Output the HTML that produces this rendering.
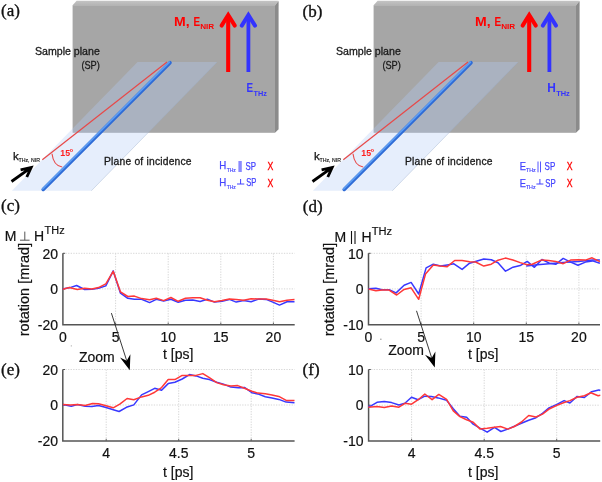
<!DOCTYPE html>
<html><head><meta charset="utf-8"><style>
html,body{margin:0;padding:0;background:#fff;}
svg{display:block;will-change:transform;}
.ser{font-family:"Liberation Serif",serif;font-size:17px;fill:#111;stroke:#111;stroke-width:0.35px;}
.s{font-family:"Liberation Sans",sans-serif;fill:#111;stroke:#111;stroke-width:0.2px;}
.c{font-family:"Liberation Sans",sans-serif;}
.b{font-family:"Liberation Sans",sans-serif;font-weight:bold;}
</style></head><body>
<svg width="602" height="482" viewBox="0 0 602 482">
<defs>
<linearGradient id="topg" x1="0" y1="0" x2="0" y2="1">
<stop offset="0" stop-color="#c4c4c4"/><stop offset="1" stop-color="#b4b4b4"/>
</linearGradient>
</defs>
<rect width="602" height="482" fill="#fff"/>
<g transform="translate(0,0)">
<text x="1" y="16" class="ser">(a)</text>
<polygon points="72.6,5.2 76.6,0.7 278.6,0.7 275,5.2" fill="url(#topg)"/>
<polygon points="275,5.2 278.6,0.9 278.6,129.2 275,132.8" fill="#8b8b8b"/>
<rect x="72.6" y="5.2" width="202.4" height="127.6" fill="#a6a6a6"/>
<polygon points="137.6,62 217,62 91.3,190.8 11.9,190.8" fill="#b3cbf6" fill-opacity="0.33"/><line x1="217" y1="62" x2="91.3" y2="190.8" stroke="#9db0cc" stroke-width="0.7" stroke-opacity="0.6"/>
<line x1="42.3" y1="159.7" x2="167" y2="62" stroke="#e84848" stroke-width="1.2"/>
<line x1="43.2" y1="189.4" x2="170" y2="62.7" stroke="#2e6bd6" stroke-width="3.6" stroke-linecap="round"/>
<line x1="43.2" y1="189.4" x2="170" y2="62.7" stroke="#5c9cf2" stroke-width="1.5" stroke-linecap="round" transform="translate(-0.55,-0.55)"/>
<path d="M52,153.8 Q53.5,166 62.2,167" stroke="#e84848" stroke-width="1.1" fill="none"/>
<text x="60.3" y="155.7" class="b" font-size="9.2" fill="#ff2020" textLength="9.8" lengthAdjust="spacingAndGlyphs">15</text>
<text x="69.4" y="155.2" class="b" font-size="9.6" fill="#ff2020">°</text>
<text x="13" y="160" class="c" font-size="11.5" fill="#111" stroke="#111" stroke-width="0.25">k</text>
<text x="18.5" y="161.7" class="c" font-size="5.6" fill="#111" stroke="#111" stroke-width="0.15" textLength="21.4" lengthAdjust="spacingAndGlyphs">THz, NIR</text>
<path d="M11.5,181.5 L30.6,167.8 M20.6,169.8 L31.2,167.4 L26.8,177" stroke="#000" stroke-width="2.8" fill="none" stroke-linecap="butt" stroke-linejoin="miter"/>
<text x="35" y="54.6" class="c" font-size="10.6" fill="#1a1a1a" stroke="#1a1a1a" stroke-width="0.3" textLength="64.8" lengthAdjust="spacing">Sample plane</text>
<text x="81.4" y="68.9" class="c" font-size="10.8" fill="#1a1a1a" stroke="#1a1a1a" stroke-width="0.3" textLength="18.4" lengthAdjust="spacingAndGlyphs">(SP)</text>
<text x="104" y="165.3" class="c" font-size="10.3" fill="#1a1a1a" stroke="#1a1a1a" stroke-width="0.3" textLength="87.6" lengthAdjust="spacing">Plane of incidence</text>
<path d="M228.2,72 L228.2,16" stroke="#ff0000" stroke-width="4.1" fill="none"/><path d="M221.6,25.6 L228.2,15 L234.8,25.6" stroke="#ff0000" stroke-width="4" fill="none" stroke-linecap="round" stroke-linejoin="miter" stroke-miterlimit="10"/>
<path d="M248.4,72 L248.4,16" stroke="#3333ff" stroke-width="3.8" fill="none"/><path d="M241.8,25.6 L248.4,15 L255,25.6" stroke="#3333ff" stroke-width="4" fill="none" stroke-linecap="round" stroke-linejoin="miter" stroke-miterlimit="10"/>
<text x="174" y="26.1" class="b" font-size="12.4" fill="#ff0000" textLength="15.6" lengthAdjust="spacingAndGlyphs">M,</text>
<text x="193.6" y="26.1" class="b" font-size="12.4" fill="#ff0000" textLength="6.6" lengthAdjust="spacingAndGlyphs">E</text>
<text x="200.2" y="29.4" class="b" font-size="8" fill="#ff0000" textLength="14" lengthAdjust="spacingAndGlyphs">NIR</text>
<text x="246.6" y="92.3" class="b" font-size="12.4" fill="#3333ff" textLength="6.6" lengthAdjust="spacingAndGlyphs">E</text>
<text x="253.6" y="95.8" class="b" font-size="8" fill="#3333ff" textLength="13.4" lengthAdjust="spacingAndGlyphs">THz</text>
<text x="219.2" y="169.4" class="c" font-size="10.3" fill="#4444ff" stroke="#4444ff" stroke-width="0.25" textLength="7" lengthAdjust="spacingAndGlyphs">H</text>
<text x="226.7" y="171.6" class="c" font-size="5.2" fill="#4444ff" stroke="#4444ff" stroke-width="0.15" textLength="9.2" lengthAdjust="spacingAndGlyphs">THz</text>
<rect x="238.4" y="161" width="3.4" height="11" fill="#8a8aff"/>
<text x="245.4" y="169.5" class="c" font-size="10.3" fill="#4444ff" stroke="#4444ff" stroke-width="0.25" textLength="10.5" lengthAdjust="spacingAndGlyphs">SP</text>
<text x="267.6" y="169.6" class="c" font-size="10.3" fill="#ff0000" stroke="#ff0000" stroke-width="0.3" textLength="5.8" lengthAdjust="spacingAndGlyphs">X</text>
<text x="219.2" y="186.3" class="c" font-size="10.3" fill="#4444ff" stroke="#4444ff" stroke-width="0.25" textLength="7" lengthAdjust="spacingAndGlyphs">H</text>
<text x="226.7" y="188.5" class="c" font-size="5.2" fill="#4444ff" stroke="#4444ff" stroke-width="0.15" textLength="9.2" lengthAdjust="spacingAndGlyphs">THz</text>
<path d="M237,184 L244.3,184 M240.6,184 L240.6,179" stroke="#4444ff" stroke-width="1" fill="none"/>
<text x="246.2" y="186.4" class="c" font-size="10.3" fill="#4444ff" stroke="#4444ff" stroke-width="0.25" textLength="10.2" lengthAdjust="spacingAndGlyphs">SP</text>
<text x="267.6" y="186.5" class="c" font-size="10.3" fill="#ff0000" stroke="#ff0000" stroke-width="0.3" textLength="5.8" lengthAdjust="spacingAndGlyphs">X</text>
</g>
<g transform="translate(301,0)">
<text x="1.6" y="17.4" class="ser">(b)</text>
<polygon points="72.6,5.2 76.6,0.7 278.6,0.7 275,5.2" fill="url(#topg)"/>
<polygon points="275,5.2 278.6,0.9 278.6,129.2 275,132.8" fill="#8b8b8b"/>
<rect x="72.6" y="5.2" width="202.4" height="127.6" fill="#a6a6a6"/>
<polygon points="137.6,62 217,62 91.3,190.8 11.9,190.8" fill="#b3cbf6" fill-opacity="0.33"/><line x1="217" y1="62" x2="91.3" y2="190.8" stroke="#9db0cc" stroke-width="0.7" stroke-opacity="0.6"/>
<line x1="42.3" y1="159.7" x2="167" y2="62" stroke="#e84848" stroke-width="1.2"/>
<line x1="43.2" y1="189.4" x2="170" y2="62.7" stroke="#2e6bd6" stroke-width="3.6" stroke-linecap="round"/>
<line x1="43.2" y1="189.4" x2="170" y2="62.7" stroke="#5c9cf2" stroke-width="1.5" stroke-linecap="round" transform="translate(-0.55,-0.55)"/>
<path d="M52,153.8 Q53.5,166 62.2,167" stroke="#e84848" stroke-width="1.1" fill="none"/>
<text x="60.3" y="155.7" class="b" font-size="9.2" fill="#ff2020" textLength="9.8" lengthAdjust="spacingAndGlyphs">15</text>
<text x="69.4" y="155.2" class="b" font-size="9.6" fill="#ff2020">°</text>
<text x="13" y="160" class="c" font-size="11.5" fill="#111" stroke="#111" stroke-width="0.25">k</text>
<text x="18.5" y="161.7" class="c" font-size="5.6" fill="#111" stroke="#111" stroke-width="0.15" textLength="21.4" lengthAdjust="spacingAndGlyphs">THz, NIR</text>
<path d="M11.5,181.5 L30.6,167.8 M20.6,169.8 L31.2,167.4 L26.8,177" stroke="#000" stroke-width="2.8" fill="none" stroke-linecap="butt" stroke-linejoin="miter"/>
<text x="35" y="54.6" class="c" font-size="10.6" fill="#1a1a1a" stroke="#1a1a1a" stroke-width="0.3" textLength="64.8" lengthAdjust="spacing">Sample plane</text>
<text x="81.4" y="68.9" class="c" font-size="10.8" fill="#1a1a1a" stroke="#1a1a1a" stroke-width="0.3" textLength="18.4" lengthAdjust="spacingAndGlyphs">(SP)</text>
<text x="104" y="165.3" class="c" font-size="10.3" fill="#1a1a1a" stroke="#1a1a1a" stroke-width="0.3" textLength="87.6" lengthAdjust="spacing">Plane of incidence</text>
<path d="M228.2,72 L228.2,16" stroke="#ff0000" stroke-width="4.1" fill="none"/><path d="M221.6,25.6 L228.2,15 L234.8,25.6" stroke="#ff0000" stroke-width="4" fill="none" stroke-linecap="round" stroke-linejoin="miter" stroke-miterlimit="10"/>
<path d="M248.4,72 L248.4,16" stroke="#3333ff" stroke-width="3.8" fill="none"/><path d="M241.8,25.6 L248.4,15 L255,25.6" stroke="#3333ff" stroke-width="4" fill="none" stroke-linecap="round" stroke-linejoin="miter" stroke-miterlimit="10"/>
<text x="174" y="26.1" class="b" font-size="12.4" fill="#ff0000" textLength="15.6" lengthAdjust="spacingAndGlyphs">M,</text>
<text x="193.6" y="26.1" class="b" font-size="12.4" fill="#ff0000" textLength="6.6" lengthAdjust="spacingAndGlyphs">E</text>
<text x="200.2" y="29.4" class="b" font-size="8" fill="#ff0000" textLength="14" lengthAdjust="spacingAndGlyphs">NIR</text>
<text x="246.2" y="92.3" class="b" font-size="12.4" fill="#3333ff" textLength="8.6" lengthAdjust="spacingAndGlyphs">H</text>
<text x="255.2" y="95.8" class="b" font-size="8" fill="#3333ff" textLength="13.6" lengthAdjust="spacingAndGlyphs">THz</text>
<text x="218.8" y="169.6" class="c" font-size="10.3" fill="#4444ff" stroke="#4444ff" stroke-width="0.25" textLength="6.2" lengthAdjust="spacingAndGlyphs">E</text>
<text x="224.9" y="171.7" class="c" font-size="5.2" fill="#4444ff" stroke="#4444ff" stroke-width="0.15" textLength="9.9" lengthAdjust="spacingAndGlyphs">THz</text>
<path d="M237,161.5 L237,172.3 M239.5,161.5 L239.5,172.3" stroke="#4444ff" stroke-width="0.9" fill="none"/>
<text x="243.6" y="169.6" class="c" font-size="10.3" fill="#4444ff" stroke="#4444ff" stroke-width="0.25" textLength="10.7" lengthAdjust="spacingAndGlyphs">SP</text>
<text x="265.7" y="169.6" class="c" font-size="10.3" fill="#ff0000" stroke="#ff0000" stroke-width="0.3" textLength="5.8" lengthAdjust="spacingAndGlyphs">X</text>
<text x="218.8" y="186.5" class="c" font-size="10.3" fill="#4444ff" stroke="#4444ff" stroke-width="0.25" textLength="6.2" lengthAdjust="spacingAndGlyphs">E</text>
<text x="224.9" y="188.7" class="c" font-size="5.2" fill="#4444ff" stroke="#4444ff" stroke-width="0.15" textLength="9.7" lengthAdjust="spacingAndGlyphs">THz</text>
<path d="M235.4,184 L242.4,184 M238.9,184 L238.9,179" stroke="#4444ff" stroke-width="1" fill="none"/>
<text x="244.2" y="186.5" class="c" font-size="10.3" fill="#4444ff" stroke="#4444ff" stroke-width="0.25" textLength="10.4" lengthAdjust="spacingAndGlyphs">SP</text>
<text x="265.7" y="186.5" class="c" font-size="10.3" fill="#ff0000" stroke="#ff0000" stroke-width="0.3" textLength="5.8" lengthAdjust="spacingAndGlyphs">X</text>
</g>
<text x="1" y="211.2" class="ser">(c)</text>
<line x1="115.6" y1="253.3" x2="115.6" y2="324.7" stroke="#d6d6d6" stroke-width="1" stroke-dasharray="1.3 1.3" fill="none"/>
<line x1="168.2" y1="253.3" x2="168.2" y2="324.7" stroke="#d6d6d6" stroke-width="1" stroke-dasharray="1.3 1.3" fill="none"/>
<line x1="220.79999999999998" y1="253.3" x2="220.79999999999998" y2="324.7" stroke="#d6d6d6" stroke-width="1" stroke-dasharray="1.3 1.3" fill="none"/>
<line x1="273.4" y1="253.3" x2="273.4" y2="324.7" stroke="#d6d6d6" stroke-width="1" stroke-dasharray="1.3 1.3" fill="none"/>
<line x1="62.9" y1="253.3" x2="294.7" y2="253.3" stroke="#d6d6d6" stroke-width="1" stroke-dasharray="1.3 1.3" fill="none"/>
<line x1="62.9" y1="288.9" x2="294.7" y2="288.9" stroke="#d6d6d6" stroke-width="1" stroke-dasharray="1.3 1.3" fill="none"/>
<path d="M62.9,253.3 L62.9,324.7 L294.7,324.7" stroke="#555555" stroke-width="1.5" fill="none"/>
<line x1="115.6" y1="324.7" x2="115.6" y2="322.5" stroke="#606060" stroke-width="1"/>
<line x1="168.2" y1="324.7" x2="168.2" y2="322.5" stroke="#606060" stroke-width="1"/>
<line x1="220.79999999999998" y1="324.7" x2="220.79999999999998" y2="322.5" stroke="#606060" stroke-width="1"/>
<line x1="273.4" y1="324.7" x2="273.4" y2="322.5" stroke="#606060" stroke-width="1"/>
<line x1="62.9" y1="253.3" x2="65.1" y2="253.3" stroke="#555555" stroke-width="1"/>
<line x1="62.9" y1="288.9" x2="65.1" y2="288.9" stroke="#555555" stroke-width="1"/>
<polyline points="62.7,289.0 70.0,287.6 76.6,285.5 84.6,289.5 91.9,289.2 98.5,288.2 105.8,285.9 113.2,270.9 120.5,293.2 127.8,298.3 134.4,299.2 141.6,299.3 149.6,302.6 156.3,299.3 163.6,301.0 170.9,299.3 178.2,302.3 185.5,300.2 192.8,299.9 200.1,301.5 207.4,299.3 214.5,302.1 222.0,301.2 229.4,299.4 236.2,302.1 243.6,300.6 251.1,301.7 258.6,299.1 266.1,299.4 272.8,302.1 279.5,305.1 287.0,301.7 294.5,301.7" stroke="#3838ff" stroke-width="1.5" fill="none" stroke-linejoin="round"/>
<polyline points="62.7,289.2 69.3,287.6 77.3,289.5 84.6,288.2 91.9,289.0 98.5,287.6 105.8,283.9 113.2,271.3 120.5,291.9 127.8,296.5 134.4,296.1 141.6,298.6 149.6,299.7 156.3,298.3 163.6,300.6 170.9,297.5 178.2,301.3 185.5,298.3 192.8,297.7 200.1,297.7 207.4,300.2 214.5,301.7 222.0,300.6 229.4,299.0 236.2,299.4 243.6,300.2 251.1,298.7 258.6,299.0 266.1,299.1 272.8,300.2 279.5,301.7 287.0,300.2 294.5,299.4" stroke="#ff3838" stroke-width="1.5" fill="none" stroke-linejoin="round"/>
<text x="302.8" y="211.6" class="ser">(d)</text>
<line x1="421.1" y1="253.3" x2="421.1" y2="324.7" stroke="#d6d6d6" stroke-width="1" stroke-dasharray="1.3 1.3" fill="none"/>
<line x1="473.7" y1="253.3" x2="473.7" y2="324.7" stroke="#d6d6d6" stroke-width="1" stroke-dasharray="1.3 1.3" fill="none"/>
<line x1="526.3" y1="253.3" x2="526.3" y2="324.7" stroke="#d6d6d6" stroke-width="1" stroke-dasharray="1.3 1.3" fill="none"/>
<line x1="578.9" y1="253.3" x2="578.9" y2="324.7" stroke="#d6d6d6" stroke-width="1" stroke-dasharray="1.3 1.3" fill="none"/>
<line x1="368.5" y1="253.3" x2="600" y2="253.3" stroke="#d6d6d6" stroke-width="1" stroke-dasharray="1.3 1.3" fill="none"/>
<line x1="368.5" y1="288.9" x2="600" y2="288.9" stroke="#d6d6d6" stroke-width="1" stroke-dasharray="1.3 1.3" fill="none"/>
<path d="M368.5,253.3 L368.5,324.7 L600,324.7" stroke="#555555" stroke-width="1.5" fill="none"/>
<line x1="421.1" y1="324.7" x2="421.1" y2="322.5" stroke="#606060" stroke-width="1"/>
<line x1="473.7" y1="324.7" x2="473.7" y2="322.5" stroke="#606060" stroke-width="1"/>
<line x1="526.3" y1="324.7" x2="526.3" y2="322.5" stroke="#606060" stroke-width="1"/>
<line x1="578.9" y1="324.7" x2="578.9" y2="322.5" stroke="#606060" stroke-width="1"/>
<line x1="368.5" y1="253.3" x2="370.7" y2="253.3" stroke="#555555" stroke-width="1"/>
<line x1="368.5" y1="288.9" x2="370.7" y2="288.9" stroke="#555555" stroke-width="1"/>
<polyline points="368.5,288.7 375.9,288.3 382.0,289.8 389.1,289.8 396.1,292.9 404.1,285.2 411.1,282.4 418.7,294.0 426.1,267.9 433.3,264.2 440.5,266.1 447.2,265.0 453.9,263.8 462.1,269.4 469.6,263.2 476.3,261.2 483.8,259.0 491.3,259.7 498.0,262.7 505.5,271.2 513.0,267.2 520.2,265.6 527.2,261.4 534.4,267.3 541.9,259.5 549.4,263.2 555.7,264.3 563.2,258.4 570.6,262.1 578.0,265.2 585.4,262.1 592.5,260.9 599.9,263.3" stroke="#3838ff" stroke-width="1.5" fill="none" stroke-linejoin="round"/>
<polyline points="526.2,266.0 537.4,264.7 549.0,263.8 562.8,262.5 578.4,261.6 592.5,260.1 599.9,260.1" stroke="#3838ff" stroke-width="1.5" fill="none" stroke-linejoin="round"/>
<polyline points="368.5,289.0 375.9,290.8 382.0,290.1 389.1,290.1 396.7,295.0 404.1,289.4 411.1,287.8 418.7,299.3 425.5,274.1 433.3,265.0 440.5,266.1 447.2,266.7 454.7,260.5 462.1,260.5 469.6,261.7 475.6,262.0 483.8,266.1 491.3,264.2 498.0,260.2 505.4,258.1 512.9,260.0 520.2,262.6 527.0,264.7 532.2,264.3 541.9,259.9 548.6,260.6 555.7,261.4 563.2,263.7 570.6,260.1 578.4,259.8 585.4,260.1 592.1,257.8 599.9,261.7" stroke="#ff3838" stroke-width="1.5" fill="none" stroke-linejoin="round"/>
<text x="1" y="374.5" class="ser">(e)</text>
<line x1="106.2" y1="369.5" x2="106.2" y2="441" stroke="#d6d6d6" stroke-width="1" stroke-dasharray="1.3 1.3" fill="none"/>
<line x1="178.7" y1="369.5" x2="178.7" y2="441" stroke="#d6d6d6" stroke-width="1" stroke-dasharray="1.3 1.3" fill="none"/>
<line x1="251.2" y1="369.5" x2="251.2" y2="441" stroke="#d6d6d6" stroke-width="1" stroke-dasharray="1.3 1.3" fill="none"/>
<line x1="62.8" y1="369.5" x2="294.6" y2="369.5" stroke="#d6d6d6" stroke-width="1" stroke-dasharray="1.3 1.3" fill="none"/>
<line x1="62.8" y1="405" x2="294.6" y2="405" stroke="#d6d6d6" stroke-width="1" stroke-dasharray="1.3 1.3" fill="none"/>
<path d="M62.8,369.5 L62.8,441 L294.6,441" stroke="#555555" stroke-width="1.5" fill="none"/>
<line x1="106.2" y1="441" x2="106.2" y2="438.8" stroke="#606060" stroke-width="1"/>
<line x1="178.7" y1="441" x2="178.7" y2="438.8" stroke="#606060" stroke-width="1"/>
<line x1="251.2" y1="441" x2="251.2" y2="438.8" stroke="#606060" stroke-width="1"/>
<line x1="62.8" y1="369.5" x2="65.0" y2="369.5" stroke="#555555" stroke-width="1"/>
<line x1="62.8" y1="405" x2="65.0" y2="405" stroke="#555555" stroke-width="1"/>
<polyline points="62.9,404.6 71.3,406.2 77.3,404.6 85.2,406.2 91.9,406.5 98.5,405.5 105.2,407.3 112.5,409.5 119.1,411.5 126.4,407.3 133.8,404.9 141.6,394.9 148.3,391.6 154.7,388.3 161.6,390.2 168.2,383.6 174.9,382.3 182.2,379.0 189.5,374.6 196.1,375.9 202.8,378.3 209.4,379.6 216.7,382.2 223.5,384.1 230.9,387.1 238.4,387.7 244.4,387.4 251.9,392.7 257.8,393.9 265.3,396.7 272.0,397.9 278.8,399.4 286.2,402.1 294.5,402.7" stroke="#3838ff" stroke-width="1.5" fill="none" stroke-linejoin="round"/>
<polyline points="62.9,404.6 70.6,404.9 77.3,404.5 85.2,405.5 92.6,403.5 98.5,403.8 105.2,405.5 113.2,407.8 119.8,404.2 127.1,398.5 133.8,399.8 141.6,396.9 148.3,395.3 154.7,392.2 161.6,387.6 168.2,379.6 174.9,379.6 182.2,375.4 189.5,375.4 196.1,375.4 202.8,373.6 209.4,377.6 216.7,382.6 223.5,384.7 230.9,385.9 237.7,385.6 244.4,388.2 251.9,391.2 257.8,393.1 265.3,393.7 272.0,394.9 278.8,396.4 286.2,400.4 294.5,400.6" stroke="#ff3838" stroke-width="1.5" fill="none" stroke-linejoin="round"/>
<text x="302.6" y="374.5" class="ser">(f)</text>
<line x1="411.6" y1="369.5" x2="411.6" y2="441" stroke="#d6d6d6" stroke-width="1" stroke-dasharray="1.3 1.3" fill="none"/>
<line x1="484.2" y1="369.5" x2="484.2" y2="441" stroke="#d6d6d6" stroke-width="1" stroke-dasharray="1.3 1.3" fill="none"/>
<line x1="556.7" y1="369.5" x2="556.7" y2="441" stroke="#d6d6d6" stroke-width="1" stroke-dasharray="1.3 1.3" fill="none"/>
<line x1="368.6" y1="369.5" x2="600.2" y2="369.5" stroke="#d6d6d6" stroke-width="1" stroke-dasharray="1.3 1.3" fill="none"/>
<line x1="368.6" y1="405.2" x2="600.2" y2="405.2" stroke="#d6d6d6" stroke-width="1" stroke-dasharray="1.3 1.3" fill="none"/>
<path d="M368.6,369.5 L368.6,441 L600.2,441" stroke="#555555" stroke-width="1.5" fill="none"/>
<line x1="411.6" y1="441" x2="411.6" y2="438.8" stroke="#606060" stroke-width="1"/>
<line x1="484.2" y1="441" x2="484.2" y2="438.8" stroke="#606060" stroke-width="1"/>
<line x1="556.7" y1="441" x2="556.7" y2="438.8" stroke="#606060" stroke-width="1"/>
<line x1="368.6" y1="369.5" x2="370.8" y2="369.5" stroke="#555555" stroke-width="1"/>
<line x1="368.6" y1="405.2" x2="370.8" y2="405.2" stroke="#555555" stroke-width="1"/>
<polyline points="368.3,406.6 371.0,405.9 377.0,402.3 384.3,401.5 391.6,402.6 398.9,405.0 404.9,403.3 411.5,397.3 418.2,399.7 424.8,396.2 431.4,396.6 438.1,397.9 446.6,400.3 453.3,408.7 459.9,416.2 466.6,417.2 473.2,424.2 479.9,428.2 487.2,432.2 494.5,427.3 500.9,431.5 507.8,429.1 514.4,426.2 520.8,423.5 528.7,420.3 536.0,417.7 542.5,413.4 549.0,407.9 556.9,404.4 564.1,400.6 569.9,403.0 577.1,396.4 584.4,397.5 591.6,391.7 598.8,389.9 600.3,390.5" stroke="#3838ff" stroke-width="1.5" fill="none" stroke-linejoin="round"/>
<polyline points="368.3,407.2 377.0,406.6 384.3,407.5 391.6,405.9 398.9,407.2 404.9,403.3 411.5,404.2 418.2,399.7 424.8,394.0 432.1,399.7 438.8,394.4 446.6,399.4 453.3,410.9 459.9,416.6 466.6,419.8 473.2,422.2 479.9,428.9 487.2,428.2 494.5,427.3 500.5,426.5 507.8,429.1 514.4,426.5 521.5,422.0 528.7,415.5 536.0,417.0 542.5,414.1 549.7,408.7 556.9,405.4 564.1,402.5 569.9,400.6 577.1,397.2 584.4,395.7 590.9,392.8 598.1,395.7 600.3,395.3" stroke="#ff3838" stroke-width="1.5" fill="none" stroke-linejoin="round"/>
<text x="58" y="258.6" class="s" font-size="14" text-anchor="end">20</text>
<text x="58" y="294.2" class="s" font-size="14" text-anchor="end">0</text>
<text x="58" y="330" class="s" font-size="14" text-anchor="end">-20</text>
<text x="63.0" y="342" class="s" font-size="14" text-anchor="middle">0</text>
<text x="115.6" y="342" class="s" font-size="14" text-anchor="middle">5</text>
<text x="168.2" y="342" class="s" font-size="14" text-anchor="middle">10</text>
<text x="220.79999999999998" y="342" class="s" font-size="14" text-anchor="middle">15</text>
<text x="273.4" y="342" class="s" font-size="14" text-anchor="middle">20</text>
<text x="363.5" y="258.6" class="s" font-size="14" text-anchor="end">10</text>
<text x="363.5" y="294.2" class="s" font-size="14" text-anchor="end">0</text>
<text x="363.5" y="330" class="s" font-size="14" text-anchor="end">-10</text>
<text x="368.5" y="342" class="s" font-size="14" text-anchor="middle">0</text>
<text x="421.1" y="342" class="s" font-size="14" text-anchor="middle">5</text>
<text x="473.7" y="342" class="s" font-size="14" text-anchor="middle">10</text>
<text x="526.3" y="342" class="s" font-size="14" text-anchor="middle">15</text>
<text x="578.9" y="342" class="s" font-size="14" text-anchor="middle">20</text>
<text x="58" y="375" class="s" font-size="14" text-anchor="end">20</text>
<text x="58" y="410.4" class="s" font-size="14" text-anchor="end">0</text>
<text x="58" y="446" class="s" font-size="14" text-anchor="end">-20</text>
<text x="106.2" y="458" class="s" font-size="14" text-anchor="middle">4</text>
<text x="178.7" y="458" class="s" font-size="14" text-anchor="middle">4.5</text>
<text x="251.2" y="458" class="s" font-size="14" text-anchor="middle">5</text>
<text x="363.5" y="375" class="s" font-size="14" text-anchor="end">10</text>
<text x="363.5" y="410.4" class="s" font-size="14" text-anchor="end">0</text>
<text x="363.5" y="446" class="s" font-size="14" text-anchor="end">-10</text>
<text x="411.6" y="458" class="s" font-size="14" text-anchor="middle">4</text>
<text x="484.2" y="458" class="s" font-size="14" text-anchor="middle">4.5</text>
<text x="556.7" y="458" class="s" font-size="14" text-anchor="middle">5</text>
<text x="163" y="359.2" class="s" font-size="14">t [ps]</text>
<text x="468" y="359.2" class="s" font-size="14">t [ps]</text>
<text x="163" y="477.1" class="s" font-size="14">t [ps]</text>
<text x="468" y="477.1" class="s" font-size="14">t [ps]</text>
<text transform="translate(28.8,336.2) rotate(-90)" class="s" font-size="14" textLength="93.4" lengthAdjust="spacingAndGlyphs">rotation [mrad]</text>
<text transform="translate(334.1,336.2) rotate(-90)" class="s" font-size="14" textLength="93.4" lengthAdjust="spacingAndGlyphs">rotation [mrad]</text>
<text x="4.7" y="240.7" class="s" font-size="14">M</text>
<path d="M20,240.2 L29.6,240.2 M24.8,240.2 L24.8,231.6" stroke="#555" stroke-width="1" fill="none"/>
<text x="33.9" y="240.7" class="s" font-size="14">H</text>
<text x="44.6" y="233.7" class="s" font-size="11.7" textLength="20" lengthAdjust="spacingAndGlyphs">THz</text>
<text x="334.6" y="241.6" class="s" font-size="14">M</text>
<path d="M351.5,231 L351.5,244 M355,231 L355,244" stroke="#111" stroke-width="1.1" fill="none"/>
<text x="361.5" y="241.6" class="s" font-size="14">H</text>
<text x="371.8" y="234.7" class="s" font-size="11.7" textLength="20.4" lengthAdjust="spacingAndGlyphs">THz</text>
<text x="79" y="361.5" class="s" font-size="14">Zoom</text>
<text x="388.2" y="354.9" class="s" font-size="14">Zoom</text>
<line x1="111.4" y1="313.1" x2="126.7" y2="360.7" stroke="#222" stroke-width="0.9"/><polygon points="129.8,370.2 120.0,357.6 126.7,360.7 130.4,354.2" fill="#000"/>
<rect x="70.8" y="345.4" width="1" height="1" fill="#999"/><rect x="380" y="338.7" width="1.6" height="1" fill="#999"/>
<line x1="416.5" y1="310.8" x2="431.7" y2="357.9" stroke="#222" stroke-width="0.9"/><polygon points="434.8,367.4 425.0,354.8 431.7,357.9 435.4,351.4" fill="#000"/>
</svg>
</body></html>
